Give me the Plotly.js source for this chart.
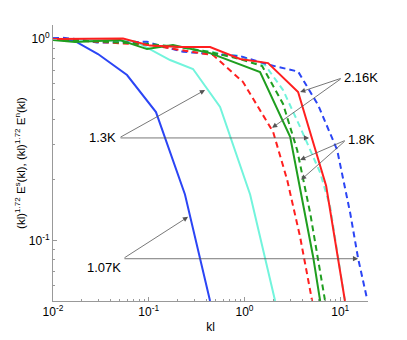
<!DOCTYPE html>
<html>
<head>
<meta charset="utf-8">
<script src="https://cdn.plot.ly/plotly-3.0.1.min.js"></script>
<style>
  html, body { margin: 0; padding: 0; background: #fff; }
  #chart { width: 407px; height: 340px; }
</style>
</head>
<body>
<div id="chart"></div>
<script>
// spectra, kl vs compensated energy
var blueSolidX = [0.01, 0.017, 0.0295, 0.0593, 0.119, 0.239, 0.437];
var blueSolidY = [1.011, 0.977, 0.843, 0.663, 0.434, 0.169, 0.050];

var blueDashX = [0.01, 0.0127, 0.017, 0.0288, 0.0466, 0.096, 0.122, 0.228, 0.90, 1.85, 3.63, 5.88, 9.29, 12.7, 15.4, 19.1];
var blueDashY = [1.011, 1.015, 1.0, 0.963, 0.963, 0.970, 0.934, 0.865, 0.823, 0.743, 0.69, 0.47, 0.281, 0.137, 0.081, 0.051];

var cyanSolidX = [0.01, 0.031, 0.0719, 0.167, 0.290, 0.556, 1.145, 2.09];
var cyanSolidY = [1.0, 0.989, 0.977, 0.787, 0.710, 0.460, 0.169, 0.050];

var cyanDashX = [0.01, 0.0593, 0.239, 0.90, 1.641, 2.53, 3.81, 6.17, 7.84, 11.2];
var cyanDashY = [1.0, 0.977, 0.902, 0.823, 0.743, 0.558, 0.366, 0.217, 0.147, 0.050];

var greenSolidX = [0.01, 0.017, 0.0501, 0.096, 0.179, 0.437, 1.455, 3.00, 5.21, 6.17];
var greenSolidY = [0.989, 0.966, 0.989, 0.892, 0.934, 0.852, 0.686, 0.327, 0.083, 0.050];

var greenDashX = [0.01, 0.1032, 0.212, 0.437, 0.90, 1.528, 2.53, 3.55, 4.85, 6.95];
var greenDashY = [1.0, 0.944, 0.913, 0.862, 0.796, 0.735, 0.476, 0.281, 0.137, 0.050];

var redSolidX = [0.01, 0.0539, 0.1032, 0.218, 0.437, 0.90, 1.765, 3.63, 7.12, 11.2];
var redSolidY = [1.0, 1.006, 0.928, 0.913, 0.913, 0.796, 0.760, 0.546, 0.187, 0.050];

var redDashX = [0.01, 0.031, 0.1032, 0.290, 0.470, 0.966, 1.99, 2.79, 3.81, 5.09];
var redDashY = [1.0, 0.966, 0.934, 0.862, 0.833, 0.612, 0.346, 0.200, 0.104, 0.050];

// tick labels
var xTickVals = [0.01, 0.1, 1, 10];
var xTickText = ['10<sup>-2</sup>', '10<sup>-1</sup>', '10<sup>0</sup>', '10<sup>1</sup>'];
var yTickVals = [0.1, 1];
var yTickText = ['10<sup>-1</sup>', '10<sup>0</sup>'];

var labels = ['1.3K', '2.16K', '1.8K', '1.07K'];

var BLUE = '#2b45f5', CYAN = '#72f4dc', GREEN = '#1f9e1f', RED = '#ff1f1f';
var DASH = '6px,4px';

function line(x, y, color, dash) {
  return {
    x: x, y: y,
    mode: 'lines',
    line: { color: color, width: 2, dash: dash || 'solid' },
    hoverinfo: 'none',
    showlegend: false
  };
}

var data = [
  line(cyanSolidX, cyanSolidY, CYAN),
  line(cyanDashX, cyanDashY, CYAN, DASH),
  line(blueDashX, blueDashY, BLUE, DASH),
  line(blueSolidX, blueSolidY, BLUE),
  line(redDashX, redDashY, RED, DASH),
  line(greenDashX, greenDashY, GREEN, DASH),
  line(greenSolidX, greenSolidY, GREEN),
  line(redSolidX, redSolidY, RED)
];

// minor ticks at 2..9 of every decade
function minorTicks(lo, hi) {
  var out = [];
  for (var e = lo; e <= hi; e++) {
    for (var d = 2; d <= 9; d++) out.push(d * Math.pow(10, e));
  }
  return out;
}

function arrow(tx, ty, hx, hy) {
  return {
    x: hx, y: hy, ax: tx, ay: ty,
    xref: 'x', yref: 'y', axref: 'x', ayref: 'y',
    text: '', showarrow: true,
    arrowhead: 2, arrowsize: 1.3, arrowwidth: 0.8, arrowcolor: '#555',
    standoff: 0, startstandoff: 0
  };
}

function label(txt, x, y, anchor) {
  return {
    x: x, y: y, xref: 'x', yref: 'y',
    text: txt, showarrow: false,
    xanchor: anchor, yanchor: 'middle',
    font: { size: 13, color: '#000' }
  };
}

var annotations = [
  label(labels[0], -1.317, -0.491, 'right'),
  arrow(-1.310, -0.491, -0.412, -0.253),
  arrow(-1.310, -0.491, 0.675, -0.491),

  label(labels[1], 1.015, -0.193, 'left'),
  arrow(1.020, -0.193, 0.581, -0.263),
  arrow(1.020, -0.193, 0.288, -0.441),

  label(labels[2], 1.057, -0.501, 'left'),
  arrow(1.062, -0.501, 0.581, -0.600),
  arrow(1.062, -0.501, 0.591, -0.699),

  label(labels[3], -1.269, -1.136, 'right'),
  arrow(-1.269, -1.091, -0.589, -0.883),
  arrow(-1.269, -1.091, 1.187, -1.091)
];

var axisStyle = {
  type: 'log',
  showline: true, linecolor: '#999', linewidth: 1,
  mirror: false, showgrid: false, zeroline: false,
  ticks: 'inside', ticklen: 4, tickcolor: '#999',
  tickmode: 'array',
  tickfont: { size: 12, color: '#000' }
};

var layout = {
  width: 407, height: 340,
  margin: { l: 53, r: 39, t: 25, b: 39 },
  paper_bgcolor: '#fff', plot_bgcolor: '#fff',
  font: { family: 'Liberation Sans, Arial, sans-serif', color: '#000' },
  showlegend: false,
  xaxis: Object.assign({}, axisStyle, {
    range: [-2, 1.29],
    tickvals: xTickVals, ticktext: xTickText,
    minor: { tickmode: 'array', tickvals: minorTicks(-2, 1), ticks: 'inside', ticklen: 2, tickcolor: '#999', showgrid: false },
    title: { text: 'kl', font: { size: 12 }, standoff: 4 }
  }),
  yaxis: Object.assign({}, axisStyle, {
    range: [-1.301, 0.07],
    tickvals: yTickVals, ticktext: yTickText,
    minor: { tickmode: 'array', tickvals: minorTicks(-2, 0), ticks: 'inside', ticklen: 2, tickcolor: '#999', showgrid: false },
    automargin: false,
    title: {
      text: '(kl)<sup>1.72</sup> E<sup>s</sup>(kl), (kl)<sup>1.72</sup> E<sup>n</sup>(kl)',
      font: { size: 11.5 }, standoff: 0
    }
  }),
  annotations: annotations
};

Plotly.newPlot('chart', data, layout, { displayModeBar: false, staticPlot: true });
</script>
</body>
</html>
